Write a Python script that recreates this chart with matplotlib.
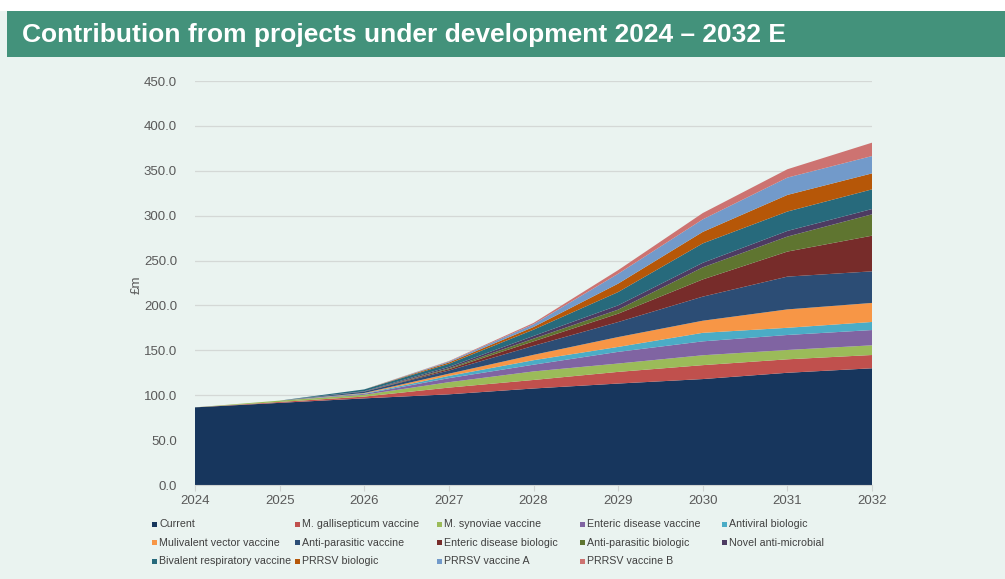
import matplotlib
matplotlib.use("Agg")
import matplotlib.pyplot as plt
from matplotlib.patches import Rectangle

plt.rcParams["font.family"] = ["Liberation Sans", "DejaVu Sans"]

years = [2024, 2025, 2026, 2027, 2028, 2029, 2030, 2031, 2032]

current       = [86.5, 91.5, 96.5, 101.0, 107.5, 113.0, 118.0, 125.0, 130.0]
m_gallisept   = [0, 1.0, 2.0, 7.5, 9.5, 13.0, 15.5, 15.0, 14.8]
m_synoviae    = [0, 1.5, 2.0, 6.0, 9.5, 9.3, 11.0, 10.4, 10.8]
enteric_vac   = [0, 0, 1.0, 4.5, 7.5, 13.0, 15.5, 16.7, 17.0]
antiviral     = [0, 0, 0.5, 2.5, 5.0, 5.5, 9.5, 8.0, 9.0]
multivalent   = [0, 0, 0.5, 2.5, 6.0, 11.0, 13.5, 20.5, 21.2]
antipar_vac   = [0, 0, 1.5, 3.5, 10.0, 16.7, 26.8, 36.5, 35.2]
enteric_bio   = [0, 0, 0, 1.5, 5.0, 9.3, 19.2, 27.9, 39.7]
antipar_bio   = [0, 0, 0, 1.0, 3.0, 4.5, 13.4, 16.7, 23.8]
novel_antimic = [0, 0, 0.5, 1.5, 3.0, 4.8, 5.1, 6.3, 5.9]
bivalent_resp = [0, 0, 2.0, 3.5, 7.0, 14.8, 21.6, 21.6, 21.9]
prrsv_bio     = [0, 0, 0, 1.5, 3.0, 9.4, 12.8, 18.5, 17.8]
prrsv_vac_a   = [0, 0, 0, 1.0, 3.0, 11.0, 14.0, 19.3, 19.3]
prrsv_vac_b   = [0, 0, 0, 0.5, 1.5, 4.0, 7.0, 9.3, 14.9]

series = [current, m_gallisept, m_synoviae, enteric_vac, antiviral, multivalent,
          antipar_vac, enteric_bio, antipar_bio, novel_antimic, bivalent_resp,
          prrsv_bio, prrsv_vac_a, prrsv_vac_b]
labels = ["Current", "M. gallisepticum vaccine", "M. synoviae vaccine",
          "Enteric disease vaccine", "Antiviral biologic", "Mulivalent vector vaccine",
          "Anti-parasitic vaccine", "Enteric disease biologic", "Anti-parasitic biologic",
          "Novel anti-microbial", "Bivalent respiratory vaccine", "PRRSV biologic",
          "PRRSV vaccine A", "PRRSV vaccine B"]
colors = ["#17365D", "#C0504D", "#9BBB59", "#8064A2", "#4BACC6", "#F79646",
          "#2C4D75", "#772C2A", "#5F7530", "#4D3B62", "#276A7C", "#B65708",
          "#729ACA", "#CD7371"]

W, H = 1005, 579
fig = plt.figure(figsize=(W / 100, H / 100), dpi=100, facecolor="#EAF3F0")

# white strip on top + green title bar
fig.patches.append(Rectangle((0, 1 - 11 / H), 1, 11 / H, transform=fig.transFigure,
                             facecolor="white", edgecolor="none", zorder=0))
fig.patches.append(Rectangle((7 / W, 1 - 57 / H), 1, 46 / H, transform=fig.transFigure,
                             facecolor="#43927B", edgecolor="none", zorder=0))
fig.text(22 / W, 1 - 35 / H, "Contribution from projects under development 2024 \u2013 2032 E",
         color="white", fontsize=19, fontweight="bold", va="center", ha="left")

ax = fig.add_axes([195 / W, 1 - 485 / H, (872 - 195) / W, (485 - 81) / H])
ax.set_facecolor("#EAF3F0")
ax.stackplot(years, *series, colors=colors, labels=labels, linewidth=0)

ax.set_xlim(2024, 2032)
ax.set_ylim(0, 450)
ax.set_xticks(years)
ax.set_yticks(range(0, 451, 50))
ax.set_yticklabels([f"{v:.1f}" for v in range(0, 451, 50)])
ax.yaxis.grid(True, color="#D4D8D6", lw=0.9)
ax.set_axisbelow(True)
for s in ["top", "right", "left"]:
    ax.spines[s].set_visible(False)
ax.spines["bottom"].set_color("#D0D4D2")
ax.tick_params(axis="y", length=0, labelsize=9.5, labelcolor="#595959", pad=13)
ax.tick_params(axis="x", length=4, color="#D0D4D2", labelsize=9.5, labelcolor="#595959", pad=3)
fig.text(137 / W, 1 - 285 / H, "\u00a3m", rotation=90, fontsize=9.5, color="#595959",
         ha="center", va="center")

# legend, row-wise like the original
for i, (lab, col) in enumerate(zip(labels, colors)):
    r, c = divmod(i, 5)
    x = (152 + c * 142.5) / W
    y = 1 - (524 + r * 18.7) / H
    fig.patches.append(Rectangle((x, y - 2.5 / H), 5 / W, 5 / H, transform=fig.transFigure,
                                 facecolor=col, edgecolor="none"))
    fig.text(x + 7 / W, y, lab, fontsize=7.7, color="#404040", va="center", ha="left")

fig.savefig("out.png", dpi=100, facecolor=fig.get_facecolor())
